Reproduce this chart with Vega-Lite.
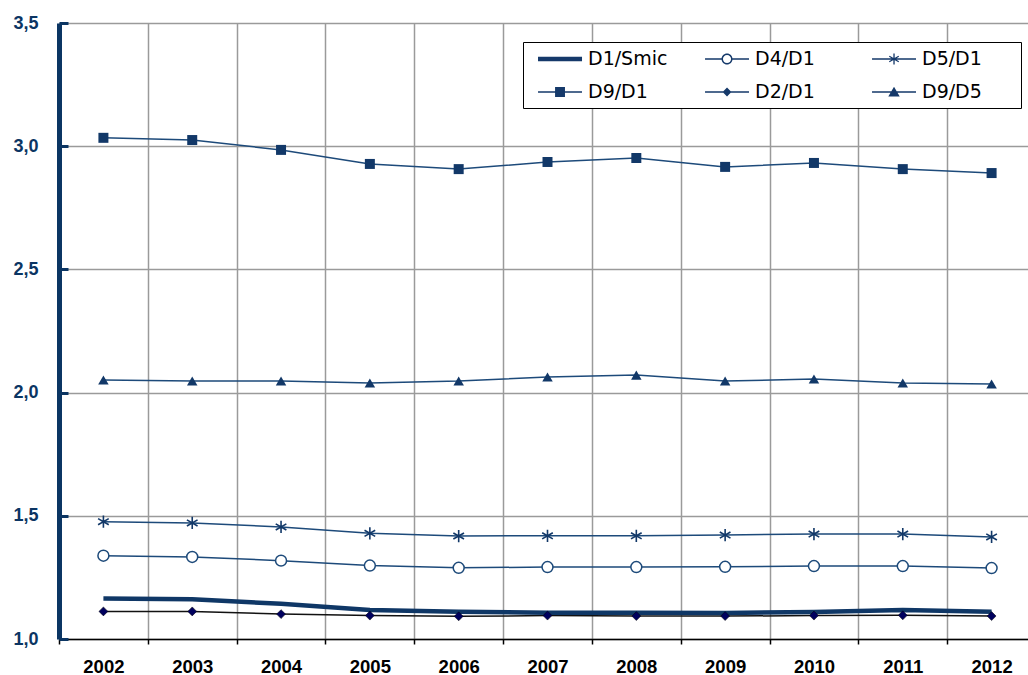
{
  "$schema": "https://vega.github.io/schema/vega-lite/v6.json",
  "autosize": "none",
  "width": 969,
  "height": 616,
  "padding": {"left": 59, "top": 23, "right": 0, "bottom": 36},
  "background": "white",
  "config": {
    "view": {"stroke": null},
    "font": "Liberation Sans"
  },
  "data": {
    "values": [
      {"year": "2002", "series": "D1/Smic", "value": 1.164},
      {"year": "2003", "series": "D1/Smic", "value": 1.161},
      {"year": "2004", "series": "D1/Smic", "value": 1.143},
      {"year": "2005", "series": "D1/Smic", "value": 1.118},
      {"year": "2006", "series": "D1/Smic", "value": 1.111},
      {"year": "2007", "series": "D1/Smic", "value": 1.107},
      {"year": "2008", "series": "D1/Smic", "value": 1.107},
      {"year": "2009", "series": "D1/Smic", "value": 1.106},
      {"year": "2010", "series": "D1/Smic", "value": 1.110},
      {"year": "2011", "series": "D1/Smic", "value": 1.118},
      {"year": "2012", "series": "D1/Smic", "value": 1.111},
      {"year": "2002", "series": "D4/D1", "value": 1.338},
      {"year": "2003", "series": "D4/D1", "value": 1.333},
      {"year": "2004", "series": "D4/D1", "value": 1.318},
      {"year": "2005", "series": "D4/D1", "value": 1.298},
      {"year": "2006", "series": "D4/D1", "value": 1.289},
      {"year": "2007", "series": "D4/D1", "value": 1.292},
      {"year": "2008", "series": "D4/D1", "value": 1.292},
      {"year": "2009", "series": "D4/D1", "value": 1.293},
      {"year": "2010", "series": "D4/D1", "value": 1.296},
      {"year": "2011", "series": "D4/D1", "value": 1.296},
      {"year": "2012", "series": "D4/D1", "value": 1.288},
      {"year": "2002", "series": "D5/D1", "value": 1.476},
      {"year": "2003", "series": "D5/D1", "value": 1.471},
      {"year": "2004", "series": "D5/D1", "value": 1.455},
      {"year": "2005", "series": "D5/D1", "value": 1.429},
      {"year": "2006", "series": "D5/D1", "value": 1.418},
      {"year": "2007", "series": "D5/D1", "value": 1.419},
      {"year": "2008", "series": "D5/D1", "value": 1.419},
      {"year": "2009", "series": "D5/D1", "value": 1.422},
      {"year": "2010", "series": "D5/D1", "value": 1.426},
      {"year": "2011", "series": "D5/D1", "value": 1.426},
      {"year": "2012", "series": "D5/D1", "value": 1.414},
      {"year": "2002", "series": "D9/D1", "value": 3.034},
      {"year": "2003", "series": "D9/D1", "value": 3.025},
      {"year": "2004", "series": "D9/D1", "value": 2.985},
      {"year": "2005", "series": "D9/D1", "value": 2.928},
      {"year": "2006", "series": "D9/D1", "value": 2.907},
      {"year": "2007", "series": "D9/D1", "value": 2.936},
      {"year": "2008", "series": "D9/D1", "value": 2.952},
      {"year": "2009", "series": "D9/D1", "value": 2.916},
      {"year": "2010", "series": "D9/D1", "value": 2.932},
      {"year": "2011", "series": "D9/D1", "value": 2.907},
      {"year": "2012", "series": "D9/D1", "value": 2.891},
      {"year": "2002", "series": "D2/D1", "value": 1.112},
      {"year": "2003", "series": "D2/D1", "value": 1.112},
      {"year": "2004", "series": "D2/D1", "value": 1.101},
      {"year": "2005", "series": "D2/D1", "value": 1.095},
      {"year": "2006", "series": "D2/D1", "value": 1.092},
      {"year": "2007", "series": "D2/D1", "value": 1.095},
      {"year": "2008", "series": "D2/D1", "value": 1.093},
      {"year": "2009", "series": "D2/D1", "value": 1.093},
      {"year": "2010", "series": "D2/D1", "value": 1.095},
      {"year": "2011", "series": "D2/D1", "value": 1.096},
      {"year": "2012", "series": "D2/D1", "value": 1.093},
      {"year": "2002", "series": "D9/D5", "value": 2.051},
      {"year": "2003", "series": "D9/D5", "value": 2.047},
      {"year": "2004", "series": "D9/D5", "value": 2.047},
      {"year": "2005", "series": "D9/D5", "value": 2.039},
      {"year": "2006", "series": "D9/D5", "value": 2.047},
      {"year": "2007", "series": "D9/D5", "value": 2.063},
      {"year": "2008", "series": "D9/D5", "value": 2.071},
      {"year": "2009", "series": "D9/D5", "value": 2.047},
      {"year": "2010", "series": "D9/D5", "value": 2.055},
      {"year": "2011", "series": "D9/D5", "value": 2.039},
      {"year": "2012", "series": "D9/D5", "value": 2.035}
    ]
  },
  "encoding": {
    "x": {
      "field": "year", "type": "ordinal",
      "scale": {"type": "band", "paddingInner": 0, "paddingOuter": 0, "range": [0, 977]},
      "axis": {
        "title": null, "tickBand": "extent", "grid": true, "gridColor": "#9a9a9a", "gridWidth": 1.5,
        "domainColor": "#000000", "domainWidth": 1.5, "tickColor": "#000000", "tickWidth": 1.5, "tickSize": 5,
        "labelAngle": 0, "labelFont": "Liberation Sans", "labelFontWeight": "bold", "labelFontSize": 18.5,
        "labelColor": "#000000", "labelPadding": 13
      }
    },
    "y": {
      "field": "value", "type": "quantitative",
      "scale": {"domain": [1, 3.5], "nice": false, "zero": false},
      "axis": {
        "title": null, "values": [1, 1.5, 2, 2.5, 3, 3.5],
        "labelExpr": "replace(format(datum.value, '.1f'), '.', ',')",
        "grid": true, "gridColor": "#9a9a9a", "gridWidth": 1.5,
        "domainColor": "#0b3563", "domainWidth": 5, "tickColor": "#0b3563", "tickWidth": 3, "tickSize": -9,
        "labelFont": "Liberation Sans", "labelFontWeight": "bold", "labelFontSize": 18,
        "labelColor": "#0b3563", "labelPadding": 30
      }
    }
  },
  "layer": [
    {
      "transform": [{"filter": "datum.series !== 'D1/Smic'"}],
      "mark": {"type": "line", "strokeWidth": 1.5},
      "encoding": {
        "stroke": {
          "field": "series", "type": "nominal", "legend": null,
          "scale": {"domain": ["D4/D1", "D5/D1", "D9/D1", "D2/D1", "D9/D5"], "range": ["#1d4a7a", "#1d4a7a", "#1d4a7a", "#111111", "#1d4a7a"]}
        }
      }
    },
    {
      "transform": [{"filter": "datum.series === 'D1/Smic'"}],
      "mark": {"type": "line", "strokeWidth": 4.5, "color": "#0f3766"}
    },
    {
      "transform": [{"filter": "datum.series === 'D9/D1'"}],
      "mark": {"type": "point", "shape": "square", "size": 100, "filled": true, "color": "#123868", "opacity": 1}
    },
    {
      "transform": [{"filter": "datum.series === 'D9/D5'"}],
      "mark": {"type": "point", "shape": "triangle-up", "size": 110, "filled": true, "color": "#123868", "opacity": 1}
    },
    {
      "transform": [{"filter": "datum.series === 'D4/D1'"}],
      "mark": {"type": "point", "shape": "circle", "size": 120, "filled": true, "fill": "#ffffff", "stroke": "#1d4a7a", "strokeWidth": 1.5, "opacity": 1}
    },
    {
      "transform": [{"filter": "datum.series === 'D5/D1'"}],
      "mark": {"type": "point", "shape": "M0,-1V1M-0.87,-0.5L0.87,0.5M-0.87,0.5L0.87,-0.5", "size": 150, "filled": false, "stroke": "#123868", "strokeWidth": 1.6, "opacity": 1}
    },
    {
      "transform": [{"filter": "datum.series === 'D2/D1'"}],
      "mark": {"type": "point", "shape": "diamond", "size": 80, "filled": true, "fill": "#00005e", "stroke": "#000000", "strokeWidth": 0.5, "opacity": 1}
    },
    {
      "transform": [{"filter": "false"}],
      "mark": {"type": "point", "filled": true, "color": "#15396a", "opacity": 1},
      "encoding": {
        "shape": {
          "field": "series", "type": "nominal",
          "scale": {
            "domain": ["D1/Smic", "D9/D1", "D4/D1", "D2/D1", "D5/D1", "D9/D5"],
            "range": [
              "M-1,0ZM-0.18,-0.2H3.82V0.2H-0.18Z",
              "M-1,0ZM-0.18,-0.07H3.82V0.07H-0.18ZM1.37,-0.45H2.27V0.45H1.37Z",
              "M-1,0ZM-0.18,-0.07H1.37V0.07H-0.18ZM2.27,-0.07H3.82V0.07H2.27ZM2.32,0A0.5,0.5 0 1,1 1.32,0A0.5,0.5 0 1,1 2.32,0ZM2.19,0A0.37,0.37 0 1,0 1.45,0A0.37,0.37 0 1,0 2.19,0Z",
              "M-1,0ZM-0.18,-0.07H3.82V0.07H-0.18ZM1.82,-0.4L2.22,0L1.82,0.4L1.42,0Z",
              "M-1,0ZM12.73,0ZM-0.18,-0.07H3.82V0.07H-0.18ZM1.76,-0.5H1.88V0.5H1.76ZM1.42,-0.302L2.28,0.198L2.22,0.302L1.36,-0.198ZM1.36,0.198L2.22,-0.302L2.28,-0.198L1.42,0.302Z",
              "M-1,0ZM12.73,0ZM-0.18,-0.07H3.82V0.07H-0.18ZM1.82,-0.48L2.34,0.4H1.3Z"
            ]
          },
          "legend": {
            "title": null, "orient": "none", "legendX": 464, "legendY": 19, "columns": 3,
            "gridAlign": "all", "columnPadding": 15, "rowPadding": 12, "padding": 6,
            "symbolSize": 484, "symbolStrokeWidth": 0, "symbolOpacity": 1, "symbolFillColor": "#15396a",
            "labelFont": "DejaVu Sans", "labelFontSize": 19, "labelColor": "#000000", "labelOffset": 37,
            "labelLimit": 200,
            "strokeColor": "#000000", "fillColor": "#ffffff", "cornerRadius": 0
          }
        }
      }
    }
  ]
}
